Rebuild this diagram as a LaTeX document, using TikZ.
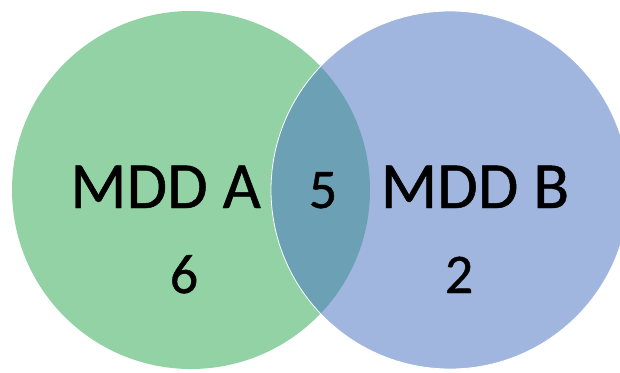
\documentclass[tikz,border=0pt]{standalone}
\usepackage{fontspec}
\setmainfont{Carlito}
\newfontfamily\vennfont{Carlito}[FakeBold=0.7]
\usetikzlibrary{positioning}
\definecolor{mddgreen}{RGB}{146,210,164}
\definecolor{mddblue}{RGB}{160,182,222}
\definecolor{mddoverlap}{RGB}{108,160,180}

\begin{document}
\begin{tikzpicture}[
  x=1pt, y=-1pt,
  setname/.style={anchor=base, inner sep=0pt, font=\vennfont\fontsize{66}{66}\selectfont},
  setcount/.style={anchor=base, inner sep=0pt, font=\vennfont\fontsize{56}{56}\selectfont}
]
\useasboundingbox (0,0) rectangle (620,372);
\clip (0,0) rectangle (620,372);

% Sets
\fill[mddgreen] (191,190) circle[radius=179pt];
\fill[mddblue] (450,190) circle[radius=179pt];

% Overlap
\begin{scope}
  \clip (191,190) circle[radius=179pt];
  \fill[mddoverlap] (450,190) circle[radius=179pt];
\end{scope}
\draw[white, line width=0.8pt] (450,190) circle[radius=179pt];

% Labels
\node[setname] (nameA) at (165.5,208) {MDD A};
\node[setname] (nameB) at (475,208) {MDD B};
\node[setcount] (both) at (323,208) {5};
\node[setcount] (onlyA) at (184,293) {6};
\node[setcount] (onlyB) at (459,293) {2};

\end{tikzpicture}
\end{document}
